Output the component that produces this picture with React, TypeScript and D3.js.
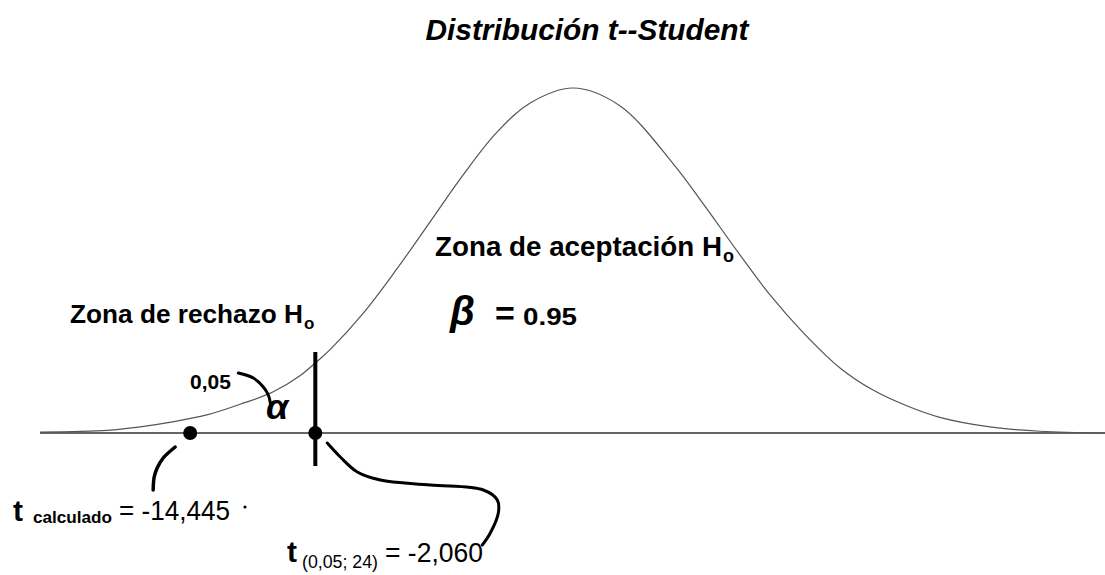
import React from 'react'
import * as d3 from 'd3'

// curve: t value and density height
const curveT = [-4.26, -3.72, -3.46, -3.19, -2.92, -2.66, -2.4, -2.18, -2.04, -1.94, -1.68, -1.41, -1.14, -0.88, -0.61, -0.34, 0, 0.37, 0.8, 1.04, 1.31, 1.57, 1.84, 2.13, 2.4, 2.67, 2.93, 3.33, 3.73, 4.25]
const curveDensity = [0.001, 0.003, 0.007, 0.013, 0.021, 0.033, 0.047, 0.066, 0.083, 0.096, 0.137, 0.188, 0.243, 0.296, 0.345, 0.379, 0.396, 0.376, 0.309, 0.263, 0.209, 0.159, 0.115, 0.075, 0.049, 0.031, 0.018, 0.007, 0.002, 0]

const criticalT = -2.06
const tCalcDrawnAt = -3.06 // -14,445 is off the scale, drawn near the tail
const criticalLineTop = 0.093

const title = 'Distribución t--Student'
const acceptLabel = 'Zona de aceptación H'
const rejectLabel = 'Zona de rechazo H'
const betaValue = '0.95'
const alphaValue = '0,05'
const tCalcValue = '= -14,445'
const tCritSub = '(0,05; 24)'
const tCritValue = '= -2,060'

// hand drawn connectors, offsets from their dot
const alphaHook = [[-77, -60], [-62, -55], [-52, -46], [-47, -38], [-45, -30]]
const tCalcHook = [[-15, 14], [-27, 25], [-33, 35], [-36, 44], [-37, 57]]
const tCritHook = [[12, 10], [25, 24], [42, 39], [65, 47], [115, 52], [168, 57], [182, 67], [183, 80], [175, 100], [167, 112]]

const App = () => {
  const width = 1105
  const height = 575

  const x = d3.scaleLinear().domain([-4.26, 4.25]).range([40, 1105])
  const y = d3.scaleLinear().domain([0, 0.396]).range([433, 88])

  const pts = curveT.map((t, i) => [t, curveDensity[i]])
  const curve = d3.line()
    .x(d => x(d[0]))
    .y(d => y(d[1]))
    .curve(d3.curveCatmullRom.alpha(0.5))

  const hook = d3.line().curve(d3.curveCatmullRom)
  const cx = x(criticalT)
  const tx = x(tCalcDrawnAt)
  const base = y(0)
  const shift = (arr, ox, oy) => arr.map(p => [p[0] + ox, p[1] + oy])

  const sans = 'Liberation Sans, Arial, sans-serif'

  return (
    <svg width={width} height={height} style={{ position: 'absolute', left: 0, top: 0, background: '#fff' }} fontFamily={sans}>
      <text x={587} y={40} fontSize={29} fontWeight="bold" fontStyle="italic" textAnchor="middle" textLength={323} lengthAdjust="spacingAndGlyphs">{title}</text>

      <line x1={x.range()[0]} x2={x.range()[1]} y1={base} y2={base} stroke="#666" strokeWidth={2} />
      <path d={curve(pts)} fill="none" stroke="#555" strokeWidth={1.2} />

      {/* critical value line */}
      <line x1={cx} x2={cx} y1={y(criticalLineTop)} y2={base + 33} stroke="#000" strokeWidth={4} />
      <circle cx={cx} cy={base} r={7} fill="#000" />
      <circle cx={tx} cy={base} r={7} fill="#000" />

      <path d={hook(shift(alphaHook, cx, base))} fill="none" stroke="#000" strokeWidth={3} strokeLinecap="round" />
      <path d={hook(shift(tCalcHook, tx, base))} fill="none" stroke="#000" strokeWidth={3.5} strokeLinecap="round" />
      <path d={hook(shift(tCritHook, cx, base))} fill="none" stroke="#000" strokeWidth={3} strokeLinecap="round" />

      <text x={435} y={256} fontSize={27} fontWeight="bold" textLength={287} lengthAdjust="spacingAndGlyphs">{acceptLabel}</text>
      <text x={723} y={262} fontSize={18} fontWeight="bold">o</text>

      <text x={70} y={323} fontSize={26} fontWeight="bold" textLength={233} lengthAdjust="spacingAndGlyphs">{rejectLabel}</text>
      <text x={304} y={329} fontSize={17} fontWeight="bold">o</text>

      <text x={450} y={325} fontSize={40} fontWeight="bold" fontStyle="italic">β</text>
      <text x={495} y={325} fontSize={34} fontWeight="bold">=</text>
      <text x={523} y={325} fontSize={24} fontWeight="bold" textLength={54} lengthAdjust="spacingAndGlyphs">{betaValue}</text>

      <text x={190} y={389} fontSize={21} fontWeight="bold">{alphaValue}</text>
      <text x={266} y={419} fontSize={36} fontWeight="bold" fontStyle="italic">α</text>

      <text x={13} y={521} fontSize={30} fontWeight="bold">t</text>
      <text x={33} y={523} fontSize={16} fontWeight="bold" textLength={79} lengthAdjust="spacingAndGlyphs">calculado</text>
      <text x={119} y={520} fontSize={28} textLength={111} lengthAdjust="spacingAndGlyphs">{tCalcValue}</text>
      <circle cx={245} cy={507} r={1.6} fill="#000" />

      <text x={287} y={562} fontSize={30} fontWeight="bold">t</text>
      <text x={302} y={568} fontSize={18} textLength={76} lengthAdjust="spacingAndGlyphs">{tCritSub}</text>
      <text x={385} y={562} fontSize={27} textLength={98} lengthAdjust="spacingAndGlyphs">{tCritValue}</text>
    </svg>
  )
}

export default App
